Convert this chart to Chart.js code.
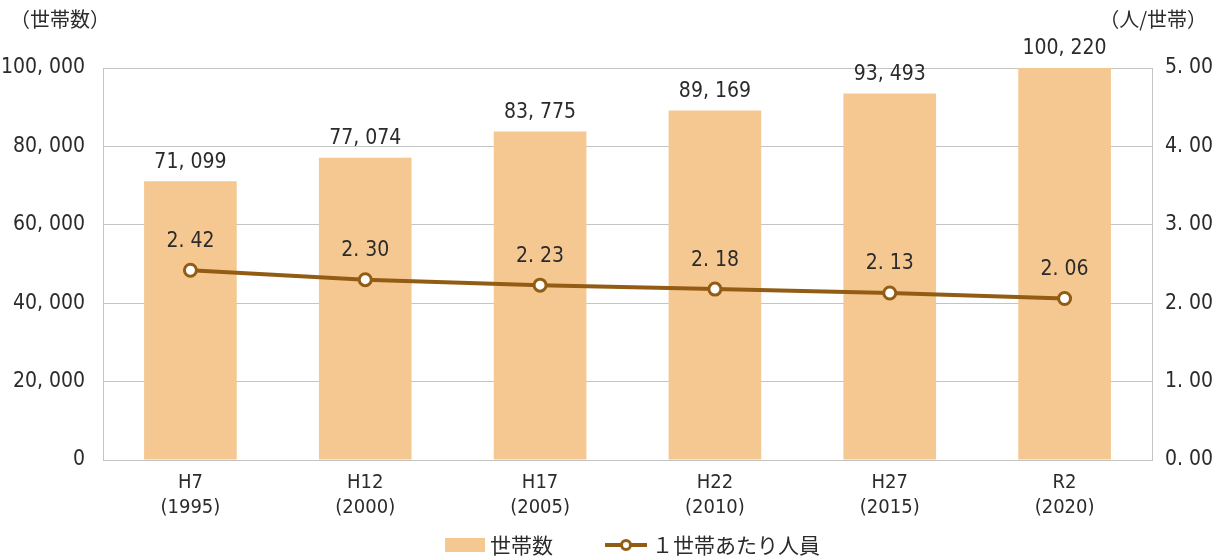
<!DOCTYPE html>
<html lang="ja">
<head>
<meta charset="utf-8">
<title>世帯数と1世帯あたり人員の推移</title>
<script src="https://cdn.jsdelivr.net/npm/chart.js@4/dist/chart.umd.min.js"></script>
<style>
  html, body { margin: 0; padding: 0; background: #fff; }
  #wrap { position: relative; width: 1221px; height: 560px; }
</style>
</head>
<body>
<div id="wrap"><canvas id="chart" width="1221" height="560"></canvas></div>
<script>
// Survey years (Japanese era label + western year)
const eraLabels = ['H7', 'H12', 'H17', 'H22', 'H27', 'R2'];
const yearLabels = ['(1995)', '(2000)', '(2005)', '(2010)', '(2015)', '(2020)'];

// Number of households (bars, left axis)
const households = [71099, 77074, 83775, 89169, 93493, 100220];

// Persons per household (line, right axis)
const personsPerHousehold = [2.42, 2.30, 2.23, 2.18, 2.13, 2.06];

// Axis tick values
const leftTicks = [0, 20000, 40000, 60000, 80000, 100000];
const rightTicks = [0, 1, 2, 3, 4, 5];

const BAR_COLOR = '#F5C892';
const LINE_COLOR = '#935C14';
const TEXT_COLOR = '#2b2b2b';
const GRID_COLOR = '#c4c4c4';
const NUM_FONT = '"Liberation Sans Narrow", "DejaVu Sans Condensed", "Noto Sans CJK JP", sans-serif';
const JP_FONT = '"Noto Sans CJK JP", sans-serif';

const fmtCount = v => v.toLocaleString('en-US').replace(/,/g, ', ');
const fmtRate = v => v.toFixed(2).replace('.', '. ');

// Value labels above bars and line points
const valueLabels = {
  id: 'valueLabels',
  afterDatasetsDraw(chart) {
    const ctx = chart.ctx;
    ctx.save();
    ctx.fillStyle = TEXT_COLOR;
    ctx.font = '21px ' + NUM_FONT;
    ctx.textAlign = 'center';
    ctx.textBaseline = 'middle';
    chart.data.datasets.forEach((ds, di) => {
      const meta = chart.getDatasetMeta(di);
      meta.data.forEach((el, i) => {
        if (ds.type === 'bar') {
          ctx.fillText(fmtCount(ds.data[i]), el.x, el.y - 19);
        } else {
          ctx.fillText(fmtRate(ds.data[i]), el.x, el.y - 29);
        }
      });
    });
    ctx.restore();
  }
};

// Unit captions and the legend row
const captionsAndLegend = {
  id: 'captionsAndLegend',
  afterDraw(chart) {
    const ctx = chart.ctx;
    ctx.save();
    ctx.fillStyle = TEXT_COLOR;
    ctx.font = '20px ' + JP_FONT;
    ctx.textBaseline = 'middle';
    ctx.textAlign = 'left';
    ctx.fillText('（世帯数）', 10, 19);
    ctx.textAlign = 'right';
    ctx.fillText('（人/世帯）', 1207, 19);

    // legend
    const ly = 545;
    ctx.font = '21px ' + JP_FONT;
    ctx.textAlign = 'left';
    const barDs = chart.data.datasets.find(ds => ds.type === 'bar');
    const lineDs = chart.data.datasets.find(ds => ds.type === 'line');

    let x = 445;
    ctx.fillStyle = BAR_COLOR;
    ctx.fillRect(x, ly - 7, 40, 14);
    ctx.fillStyle = TEXT_COLOR;
    ctx.fillText(barDs.label, x + 45, ly);

    x = 605;
    ctx.strokeStyle = LINE_COLOR;
    ctx.lineWidth = 4;
    ctx.beginPath();
    ctx.moveTo(x, ly);
    ctx.lineTo(x + 42, ly);
    ctx.stroke();
    ctx.beginPath();
    ctx.arc(x + 21, ly, 4.5, 0, Math.PI * 2);
    ctx.fillStyle = '#fff';
    ctx.fill();
    ctx.lineWidth = 3;
    ctx.stroke();
    ctx.fillStyle = TEXT_COLOR;
    ctx.fillText(lineDs.label, x + 47, ly);
    ctx.restore();
  }
};

new Chart(document.getElementById('chart'), {
  data: {
    labels: eraLabels.map((e, i) => [e, yearLabels[i]]),
    datasets: [
      {
        type: 'line',
        label: '１世帯あたり人員',
        data: personsPerHousehold,
        yAxisID: 'yRate',
        borderColor: LINE_COLOR,
        borderWidth: 4,
        pointRadius: 6,
        pointBorderWidth: 3,
        pointBackgroundColor: '#fff',
        pointBorderColor: LINE_COLOR,
        tension: 0,
        order: 0
      },
      {
        type: 'bar',
        label: '世帯数',
        data: households,
        yAxisID: 'yCount',
        backgroundColor: BAR_COLOR,
        borderWidth: 0,
        categoryPercentage: 1,
        barPercentage: 0.53,
        order: 1
      }
    ]
  },
  options: {
    responsive: false,
    animation: false,
    events: [],
    layout: { padding: { top: 68, left: 0, right: 0, bottom: 0 } },
    plugins: {
      legend: { display: false },
      tooltip: { enabled: false }
    },
    scales: {
      x: {
        grid: { display: false, drawTicks: false },
        border: { display: true, color: GRID_COLOR, width: 1 },
        ticks: {
          color: TEXT_COLOR,
          font: { family: NUM_FONT, size: 20, lineHeight: 1.25 },
          padding: 10,
          maxRotation: 0
        },
        afterFit(scale) { scale.height = 100; }
      },
      yCount: {
        position: 'left',
        min: 0,
        max: 100000,
        afterBuildTicks(scale) { scale.ticks = leftTicks.map(v => ({ value: v })); },
        grid: { color: GRID_COLOR, lineWidth: 1, drawTicks: false },
        border: { display: true, color: GRID_COLOR, width: 1 },
        ticks: {
          color: TEXT_COLOR,
          font: { family: NUM_FONT, size: 21 },
          padding: 18,
          callback: v => fmtCount(v)
        },
        afterFit(scale) { scale.width = 103; }
      },
      yRate: {
        position: 'right',
        min: 0,
        max: 5,
        afterBuildTicks(scale) { scale.ticks = rightTicks.map(v => ({ value: v })); },
        grid: { display: false, drawTicks: false },
        border: { display: true, color: GRID_COLOR, width: 1 },
        ticks: {
          color: TEXT_COLOR,
          font: { family: NUM_FONT, size: 21 },
          padding: 13,
          callback: v => fmtRate(v)
        },
        afterFit(scale) { scale.width = 69; }
      }
    }
  },
  plugins: [valueLabels, captionsAndLegend]
});
</script>
</body>
</html>
